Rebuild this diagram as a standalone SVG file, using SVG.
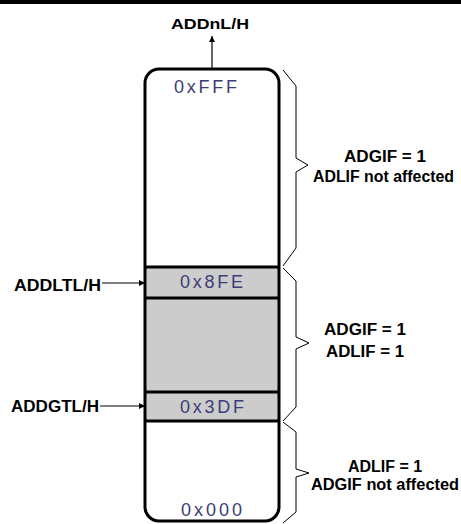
<svg xmlns="http://www.w3.org/2000/svg" width="461" height="524" viewBox="0 0 461 524">
<style>
.lbl{font-family:"Liberation Sans",Arial,sans-serif;font-weight:bold;font-size:16px;fill:#000}
.hex{font-family:"Liberation Sans",Arial,sans-serif;font-size:18px;fill:#3c3c78}
.box{fill:none;stroke:#000;stroke-width:3}
.sep{stroke:#000;stroke-width:3}
.conn{stroke:#000;stroke-width:1.2;fill:none}
.brace{stroke:#000;stroke-width:1;fill:none}
</style>
<defs>
<marker id="arr" viewBox="0 0 8 8" refX="8" refY="4" markerWidth="6" markerHeight="6" markerUnits="userSpaceOnUse" orient="auto">
<path d="M0,0 L8,4 L0,8 Z" fill="#000"/>
</marker>
</defs>
<rect x="0" y="0" width="461" height="4" fill="#000"/>
<g id="memory">
<rect x="145" y="267" width="134" height="154" fill="#cccccc"/>
<rect class="box" x="145" y="69" width="134" height="452" rx="14" ry="14"/>
<line class="sep" x1="145" y1="267" x2="279" y2="267"/>
<line class="sep" x1="145" y1="298" x2="279" y2="298"/>
<line class="sep" x1="145" y1="392" x2="279" y2="392"/>
<line class="sep" x1="145" y1="421" x2="279" y2="421"/>
<text class="hex" x="174" y="93" textLength="63" lengthAdjust="spacing">0xFFF</text>
<text class="hex" x="180" y="288" textLength="63" lengthAdjust="spacing">0x8FE</text>
<text class="hex" x="180" y="413" textLength="64" lengthAdjust="spacing">0x3DF</text>
<text class="hex" x="181" y="516" textLength="61" lengthAdjust="spacing">0x000</text>
</g>
<g id="connectors">
<line class="conn" x1="212" y1="69" x2="212" y2="36" marker-end="url(#arr)"/>
<line class="conn" x1="102" y1="283" x2="145" y2="283" marker-end="url(#arr)"/>
<line class="conn" x1="100" y1="406" x2="145" y2="406" marker-end="url(#arr)"/>
</g>
<g id="braces">
<polyline class="brace" points="283,70 296,86 296,158 308,165 296,172 296,248 283,266"/>
<polyline class="brace" points="283,268 296,281 296,337 309,343 296,349 296,407 283,421"/>
<polyline class="brace" points="283,422 296,432 296,469 309,473 296,477 296,512 283,523"/>
</g>
<g id="label-top"><text class="lbl" x="171" y="29" style="font-size:15px" textLength="78" lengthAdjust="spacingAndGlyphs">ADDnL/H</text></g>
<g id="label-lt"><text class="lbl" x="14" y="291" textLength="87" lengthAdjust="spacingAndGlyphs">ADDLTL/H</text></g>
<g id="label-gt"><text class="lbl" x="11" y="412" textLength="88" lengthAdjust="spacingAndGlyphs">ADDGTL/H</text></g>
<g id="region-high">
<text class="lbl" x="344" y="162" textLength="82" lengthAdjust="spacingAndGlyphs">ADGIF = 1</text>
<text class="lbl" x="313" y="182" textLength="141" lengthAdjust="spacingAndGlyphs">ADLIF not affected</text>
</g>
<g id="region-mid">
<text class="lbl" x="324" y="335" textLength="82" lengthAdjust="spacingAndGlyphs">ADGIF = 1</text>
<text class="lbl" x="326" y="357" textLength="78" lengthAdjust="spacingAndGlyphs">ADLIF = 1</text>
</g>
<g id="region-low">
<text class="lbl" x="348" y="472" textLength="74" lengthAdjust="spacingAndGlyphs">ADLIF = 1</text>
<text class="lbl" x="311" y="490" textLength="148" lengthAdjust="spacingAndGlyphs">ADGIF not affected</text>
</g>
</svg>
